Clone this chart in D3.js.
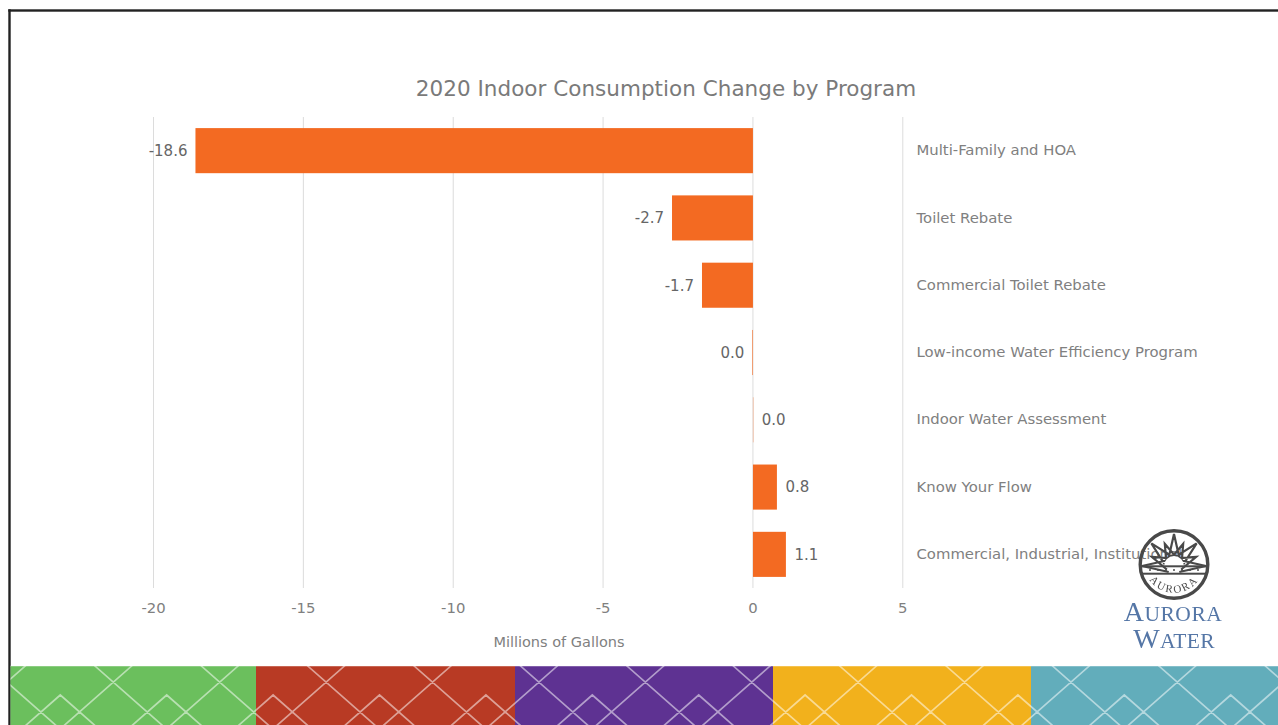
<!DOCTYPE html>
<html>
<head>
<meta charset="utf-8">
<title>2020 Indoor Consumption Change by Program</title>
<script src="https://cdn.jsdelivr.net/npm/d3@7"></script>
<style>
  html, body { margin: 0; padding: 0; background: #fff; overflow: hidden; }
  svg { display: block; }
  text { font-family: "DejaVu Sans", Verdana, sans-serif; }
</style>
</head>
<body>
<div id="chart"></div>
<script>
// Program names, top to bottom
const programs = [
  "Multi-Family and HOA",
  "Toilet Rebate",
  "Commercial Toilet Rebate",
  "Low-income Water Efficiency Program",
  "Indoor Water Assessment",
  "Know Your Flow",
  "Commercial, Industrial, Institutional"
];
// Change in consumption, millions of gallons
const changes = [-18.6, -2.7, -1.7, -0.02, 0.01, 0.8, 1.1];
const xTicks = [-20, -15, -10, -5, 0, 5];

// Footer band colours and their right-hand edges
const footerColors = ["#6bbf5d", "#b83a24", "#5e3292", "#f2b11c", "#62adbb"];
const footerEdges = [10.5, 256, 515, 773, 1031, 1278];

const width = 1278, height = 725;
const svg = d3.select("#chart").append("svg")
  .attr("width", width).attr("height", height)
  .attr("viewBox", [0, 0, width, height]);

// Page frame: top and left rules only
svg.append("rect").attr("x", 8.3).attr("y", 9.3).attr("width", width).attr("height", 2.4).attr("fill", "#222");
svg.append("rect").attr("x", 8.3).attr("y", 9.3).attr("width", 2.4).attr("height", height).attr("fill", "#222");

// Scales
const x = d3.scaleLinear().domain([-20, 5]).range([153.5, 902.8]);
const y = d3.scaleBand().domain(programs).range([117, 588]).paddingInner(0.33).paddingOuter(0.165);

// Vertical gridlines
svg.append("g").selectAll("line").data(xTicks).join("line")
  .attr("x1", d => x(d)).attr("x2", d => x(d))
  .attr("y1", 117).attr("y2", 588)
  .attr("stroke", "#dcdcdc").attr("stroke-width", 1);

// Title
svg.append("text").attr("x", 666).attr("y", 96).attr("text-anchor", "middle")
  .attr("font-size", 21.5).attr("letter-spacing", 0.02).attr("fill", "#7a7a7a")
  .text("2020 Indoor Consumption Change by Program");

// Bars
svg.append("g").selectAll("rect").data(programs).join("rect")
  .attr("x", (d, i) => Math.min(x(0), x(changes[i])))
  .attr("width", (d, i) => Math.abs(x(changes[i]) - x(0)))
  .attr("y", d => y(d))
  .attr("height", y.bandwidth())
  .attr("fill", "#f36a22");

// Value labels sit just outside each bar end
const fmt = v => d3.format(".1f")(v).replace("\u2212", "-");
svg.append("g").selectAll("text").data(programs).join("text")
  .attr("x", (d, i) => x(changes[i]) + (changes[i] < 0 ? -8 : 8.5))
  .attr("y", d => y(d) + y.bandwidth() / 2 + 5.3)
  .attr("text-anchor", (d, i) => changes[i] < 0 ? "end" : "start")
  .attr("font-size", 15).attr("fill", "#666")
  .text((d, i) => fmt(changes[i]));

// Category labels in a column right of the plot
svg.append("g").selectAll("text").data(programs).join("text")
  .attr("x", 916.5)
  .attr("y", d => y(d) + y.bandwidth() / 2 + 4.7)
  .attr("font-size", 14.85).attr("fill", "#808080")
  .text(d => d);

// Value axis labels and title
svg.append("g").selectAll("text").data(xTicks).join("text")
  .attr("x", d => x(d)).attr("y", 612.5).attr("text-anchor", "middle")
  .attr("font-size", 14.85).attr("fill", "#808080")
  .text(d => String(d));
svg.append("text").attr("x", 559).attr("y", 646.7).attr("text-anchor", "middle")
  .attr("font-size", 14.5).attr("fill", "#808080").text("Millions of Gallons");

// Footer: coloured bands overlaid with a continuous lattice of pale lines
const footer = svg.append("g");
footer.selectAll("rect").data(footerColors).join("rect")
  .attr("x", (d, i) => footerEdges[i])
  .attr("width", (d, i) => footerEdges[i + 1] - footerEdges[i])
  .attr("y", 666).attr("height", 59)
  .attr("fill", d => d);

const defs = svg.append("defs");
defs.append("clipPath").attr("id", "footer-clip")
  .append("rect").attr("x", 10.5).attr("y", 666).attr("width", width).attr("height", 59);
defs.append("filter").attr("id", "soft").append("feGaussianBlur").attr("stdDeviation", 0.4);

const period = 106.4, crossX = 113.3, crossY = 682.2, slope = 0.88;
const lattice = footer.append("g").attr("clip-path", "url(#footer-clip)")
  .attr("stroke", "#fff").attr("stroke-opacity", 0.52).attr("stroke-width", 1.7).attr("fill", "none");
const latticePath = d3.range(-1, 12).map(k => {
  const cx = crossX + k * period;
  const peakX = cx - 53;
  const peakY = 695;
  const far = 80;
  return [
    `M${cx - 19},${crossY - 19 * slope}L${cx + far},${crossY + far * slope}`,
    `M${cx + 19},${crossY - 19 * slope}L${cx - far},${crossY + far * slope}`,
    `M${peakX - 50},${peakY + 50 * slope}L${peakX},${peakY}L${peakX + 50},${peakY + 50 * slope}`
  ].join("");
}).join("");
lattice.append("path").attr("d", latticePath);
svg.append("line").attr("x1", 10.5).attr("x2", width).attr("y1", 666).attr("y2", 666)
  .attr("stroke", "#fff").attr("stroke-opacity", 0.45).attr("stroke-width", 1);

// Aurora Water logo: seal with a rising sun, and a small-caps wordmark
const logo = svg.append("g").attr("transform", "translate(1174,564.5)").attr("filter", "url(#soft)");
const ink = "#4a4a4a";
const rayAngles = d3.range(-90, 91, 22.5).map(a => a * Math.PI / 180);
const polar = (r, a) => [r * Math.sin(a), 1.5 - r * Math.cos(a)];
const rays = rayAngles.map((a, i) => {
  const len = i % 2 === 0 ? 32 : 24;
  return `M${polar(8, a - 0.85)}L${polar(len, a)}L${polar(8, a + 0.85)}`;
}).join("");
logo.append("path").attr("d", rays).attr("fill", "none").attr("stroke", ink).attr("stroke-width", 2.2);
logo.append("path").attr("d", "M-10,1.5A10,10 0 0 1 10,1.5Z").attr("fill", "#fff");
logo.append("rect").attr("x", -34).attr("y", 0.8).attr("width", 68).attr("height", 2).attr("fill", ink);
logo.append("rect").attr("x", -33).attr("y", 8.2).attr("width", 66).attr("height", 2).attr("fill", ink);
logo.selectAll("circle.dot").data(d3.range(-24, 25, 8)).join("circle")
  .attr("class", "dot").attr("cx", d => d).attr("cy", 5.4).attr("r", 1).attr("fill", ink);
logo.append("circle").attr("r", 33.8).attr("fill", "none").attr("stroke", ink).attr("stroke-width", 3.4);
logo.append("path").attr("id", "seal-arc").attr("d", "M-29,6A30,30 0 0 0 29,6").attr("fill", "none");
logo.append("text").attr("font-size", 11).attr("fill", ink).attr("letter-spacing", 1.9)
  .style("font-family", "'Liberation Serif', serif")
  .append("textPath").attr("href", "#seal-arc").attr("startOffset", "50%").attr("text-anchor", "middle")
  .text("AURORA");

const wordmark = svg.append("g").attr("fill", "#5476a6").attr("text-anchor", "middle").attr("filter", "url(#soft)");
const line1 = wordmark.append("text").attr("x", 1173).attr("y", 620.5)
  .attr("letter-spacing", 0.5).style("font-family", "'Liberation Serif', serif");
line1.append("tspan").attr("font-size", 28).text("A");
line1.append("tspan").attr("font-size", 21.5).text("URORA");
const line2 = wordmark.append("text").attr("x", 1174).attr("y", 648)
  .attr("letter-spacing", 0.3).style("font-family", "'Liberation Serif', serif");
line2.append("tspan").attr("font-size", 28).text("W");
line2.append("tspan").attr("font-size", 21.5).text("ATER");
</script>
</body>
</html>
